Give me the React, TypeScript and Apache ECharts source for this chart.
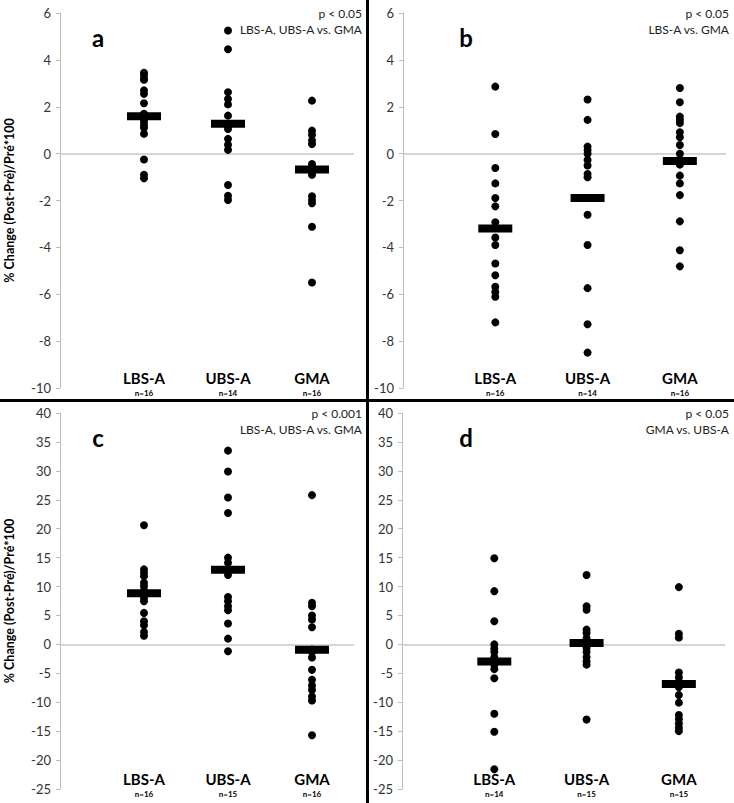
import React, { useEffect, useRef } from "react";
import * as echarts from "echarts";

const categories = ["LBS-A", "UBS-A", "GMA"];

// Panel a
const aLBS = [3.45, 3.35, 3.2, 3.15, 2.7, 2.55, 2.15, 1.7, 1.5, 1.35, 1.2, 1.1, 0.85, -0.25, -0.9, -1.05];
const aUBS = [5.25, 4.45, 2.62, 2.33, 2.1, 1.62, 1.2, 1.05, 0.63, 0.38, 0.16, -1.34, -1.8, -1.98];
const aGMA = [2.26, 0.98, 0.81, 0.56, 0.41, -0.44, -0.58, -0.65, -0.7, -0.8, -0.9, -1.82, -1.98, -2.12, -3.12, -5.5];
const aMean = [1.6, 1.27, -0.68];
const aN = [16, 14, 16];

// Panel b
const bLBS = [2.86, 0.84, -0.61, -1.27, -1.89, -2.25, -2.93, -3.15, -3.58, -3.9, -4.69, -5.19, -5.68, -5.9, -6.11, -7.2];
const bUBS = [2.31, 1.44, 0.3, 0.15, 0, -0.27, -0.51, -0.87, -1.01, -2.61, -3.9, -5.74, -7.28, -8.49];
const bGMA = [2.8, 2.19, 1.58, 1.44, 1.3, 0.91, 0.7, 0.37, 0, -0.47, -0.94, -1.27, -1.77, -2.89, -4.12, -4.81];
const bMean = [-3.19, -1.89, -0.31];
const bN = [16, 14, 16];

// Panel c
const cLBS = [20.6, 12.97, 12.4, 11.8, 10.65, 10.07, 9.3, 8.9, 8.5, 8.05, 7.47, 5.44, 4.0, 3.3, 2.14, 1.5];
const cUBS = [33.5, 29.9, 25.4, 22.7, 15.0, 14.1, 12.85, 12.0, 8.2, 7.47, 6.6, 5.9, 3.6, 1.0, -1.2];
const cGMA = [25.8, 7.2, 6.6, 5.0, 4.3, 2.95, -0.9, -1.3, -2.26, -4.4, -6.1, -7.1, -7.9, -9.0, -9.7, -15.7];
const cMean = [8.86, 12.9, -0.93];
const cN = [16, 15, 16];

// Panel d
const dLBS = [14.9, 9.2, 4.0, 0, -0.75, -1.33, -2.2, -2.66, -3.5, -4.28, -5.85, -12.0, -15.1, -21.6];
const dUBS = [12.0, 6.6, 6.0, 2.55, 1.97, 1.1, 0.5, 0.1, -0.3, -0.64, -1.33, -2.2, -2.95, -3.5, -13.0];
const dGMA = [9.9, 1.85, 1.2, -4.86, -5.73, -6.8, -7.0, -7.4, -8.74, -10.07, -12.2, -12.9, -13.66, -14.4, -15.0];
const dMean = [-2.95, 0.23, -6.83];
const dN = [14, 15, 15];

const panelLetters = ["a", "b", "c", "d"];
const pValues = ["p < 0.05", "p < 0.05", "p < 0.001", "p < 0.05"];
const pComparisons = ["LBS-A, UBS-A vs. GMA", "LBS-A vs. GMA", "LBS-A, UBS-A vs. GMA", "GMA vs. UBS-A"];
const yTitle = "% Change (Post-Pré)/Pré*100";
const yRanges = [
  { min: -10, max: 6, interval: 2 },
  { min: -10, max: 6, interval: 2 },
  { min: -25, max: 40, interval: 5 },
  { min: -25, max: 40, interval: 5 },
];

const panels = [
  { groups: [aLBS, aUBS, aGMA], mean: aMean, n: aN },
  { groups: [bLBS, bUBS, bGMA], mean: bMean, n: bN },
  { groups: [cLBS, cUBS, cGMA], mean: cMean, n: cN },
  { groups: [dLBS, dUBS, dGMA], mean: dMean, n: dN },
];

const FONT = "Lato, 'Open Sans', sans-serif";

export default function App() {
  const ref = useRef<HTMLDivElement>(null);
  useEffect(() => {
    if (!ref.current) return;
    const chart = echarts.init(ref.current, undefined, { renderer: "svg" });

    const grids = [
      { left: 60, top: 13, width: 294, height: 375 },
      { left: 403, top: 13, width: 323, height: 375 },
      { left: 60, top: 413, width: 294, height: 376 },
      { left: 402, top: 413, width: 323, height: 376 },
    ];

    const xAxes = panels.map((p, i) => ({
      type: "value",
      gridIndex: i,
      min: 0,
      max: 3.5,
      interval: 1,
      axisLine: { show: false },
      axisTick: { show: false },
      splitLine: { show: false },
      axisLabel: {
        margin: -18,
        showMaxLabel: false,
        formatter: (v: number) => {
          if (v >= 1 && v <= 3 && Number.isInteger(v)) {
            return `{c|${categories[v - 1]}}\n{n|n=${p.n[v - 1]}}`;
          }
          return "";
        },
        rich: {
          c: { fontFamily: FONT, fontWeight: "bold", fontSize: 15, color: "#000", lineHeight: 16 },
          n: { fontFamily: FONT, fontWeight: "bold", fontSize: 8, color: "#000", lineHeight: 14 },
        },
      },
    }));

    const yAxes = panels.map((p, i) => ({
      type: "value",
      gridIndex: i,
      min: yRanges[i].min,
      max: yRanges[i].max,
      interval: yRanges[i].interval,
      name: i % 2 === 0 ? yTitle : "",
      nameLocation: "middle",
      nameGap: 44,
      nameTextStyle: { fontFamily: FONT, fontWeight: "bold", fontSize: 12.5, color: "#000" },
      axisLine: { show: true, lineStyle: { color: "#bdbdbd", width: 1 } },
      axisTick: { show: true, inside: false, length: 4, lineStyle: { color: "#bdbdbd" } },
      splitLine: { show: false },
      axisLabel: { fontFamily: FONT, fontSize: 13, color: "#333", margin: 9 },
    }));

    const series: any[] = [];
    panels.forEach((p, i) => {
      const pts: number[][] = [];
      p.groups.forEach((g, gi) => g.forEach((v) => pts.push([gi + 1, v])));
      series.push({
        type: "scatter",
        xAxisIndex: i,
        yAxisIndex: i,
        data: pts,
        symbol: "circle",
        symbolSize: 8,
        itemStyle: { color: "#000", opacity: 1 },
        z: 3,
        markLine: {
          silent: true,
          symbol: "none",
          label: { show: false },
          lineStyle: { color: "#c8c8c8", width: 1.5, type: "solid" },
          data: [{ yAxis: 0 }],
          z: 1,
        },
      });
      series.push({
        type: "scatter",
        xAxisIndex: i,
        yAxisIndex: i,
        data: p.mean.map((m, gi) => [gi + 1, m]),
        symbol: "rect",
        symbolSize: [34, 8],
        itemStyle: { color: "#000", opacity: 1 },
        z: 4,
      });
    });

    const letterPos = [
      [98, 37],
      [466, 37],
      [98, 437],
      [466, 437],
    ];
    const pPos = [
      [362, 13],
      [729, 13],
      [362, 413],
      [729, 413],
    ];

    const graphic: any[] = [];
    panelLetters.forEach((l, i) => {
      graphic.push({
        type: "text",
        style: {
          text: l,
          x: letterPos[i][0],
          y: letterPos[i][1],
          textAlign: "center",
          textVerticalAlign: "middle",
          align: "center",
          verticalAlign: "middle",
          font: `bold 24px ${FONT}`,
          fill: "#000",
        },
      });
      graphic.push({
        type: "text",
        style: {
          text: pValues[i],
          x: pPos[i][0],
          y: pPos[i][1],
          textAlign: "right",
          textVerticalAlign: "middle",
          align: "right",
          verticalAlign: "middle",
          font: `12px ${FONT}`,
          fill: "#222",
        },
      });
      graphic.push({
        type: "text",
        style: {
          text: pComparisons[i],
          x: pPos[i][0],
          y: pPos[i][1] + 16,
          textAlign: "right",
          textVerticalAlign: "middle",
          align: "right",
          verticalAlign: "middle",
          font: `12px ${FONT}`,
          fill: "#222",
        },
      });
    });
    graphic.push({
      type: "line",
      shape: { x1: 367.5, y1: 0, x2: 367.5, y2: 803 },
      style: { stroke: "#000", lineWidth: 3 },
    });
    graphic.push({
      type: "line",
      shape: { x1: 0, y1: 400.5, x2: 734, y2: 400.5 },
      style: { stroke: "#000", lineWidth: 3 },
    });

    chart.setOption({
      animation: false,
      backgroundColor: "#fff",
      grid: grids,
      xAxis: xAxes,
      yAxis: yAxes,
      series,
      graphic,
    });
    return () => chart.dispose();
  }, []);

  return (
    <div
      ref={ref}
      style={{ position: "fixed", left: 0, top: 0, width: 734, height: 803, background: "#fff" }}
    />
  );
}
